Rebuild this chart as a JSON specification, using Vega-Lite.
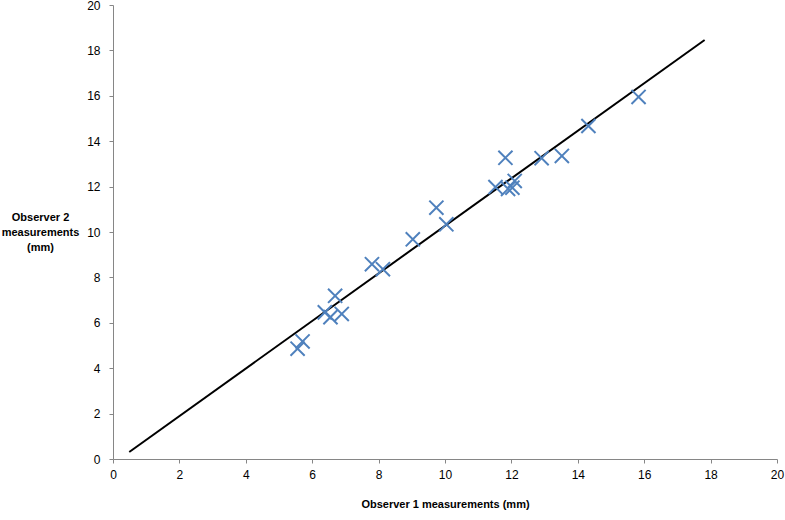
{
  "$schema": "https://vega.github.io/schema/vega-lite/v6.json",
  "autosize": "none",
  "width": 664,
  "height": 454,
  "padding": {"left": 113, "top": 5, "right": 8, "bottom": 61},
  "background": "white",
  "config": {
    "view": {"stroke": null},
    "font": "Liberation Sans",
    "axis": {
      "grid": false,
      "labelFlush": false,
      "domainColor": "#868686",
      "tickColor": "#868686",
      "tickSize": 4,
      "labelFont": "Liberation Sans",
      "labelFontSize": 12,
      "labelColor": "#000000",
      "titleFont": "Liberation Sans",
      "titleFontSize": 11,
      "titleFontWeight": "bold",
      "titleColor": "#000000"
    }
  },
  "datasets": {
    "points": [
      {"obs1": 5.56, "obs2": 4.86},
      {"obs1": 5.71, "obs2": 5.18},
      {"obs1": 6.38, "obs2": 6.46},
      {"obs1": 6.55, "obs2": 6.25},
      {"obs1": 6.69, "obs2": 7.19},
      {"obs1": 6.89, "obs2": 6.39},
      {"obs1": 7.8, "obs2": 8.58},
      {"obs1": 8.13, "obs2": 8.36},
      {"obs1": 9.03, "obs2": 9.68},
      {"obs1": 9.74, "obs2": 11.07},
      {"obs1": 10.04, "obs2": 10.34},
      {"obs1": 11.52, "obs2": 11.98},
      {"obs1": 11.82, "obs2": 13.27},
      {"obs1": 11.9, "obs2": 11.9},
      {"obs1": 12.03, "obs2": 11.95},
      {"obs1": 12.1, "obs2": 12.25},
      {"obs1": 12.91, "obs2": 13.25},
      {"obs1": 13.52, "obs2": 13.35},
      {"obs1": 14.32, "obs2": 14.67},
      {"obs1": 15.83, "obs2": 15.95}
    ],
    "fit": [
      {"obs1": 0.49, "obs2": 0.31},
      {"obs1": 17.82, "obs2": 18.46}
    ]
  },
  "layer": [
    {
      "data": {"name": "fit"},
      "mark": {"type": "line", "color": "#000000", "strokeWidth": 2},
      "encoding": {
        "x": {
          "field": "obs1", "type": "quantitative",
          "scale": {"domain": [0, 20], "nice": false, "zero": false},
          "axis": {
            "values": [0, 2, 4, 6, 8, 10, 12, 14, 16, 18, 20],
            "labelPadding": 6,
            "title": "Observer 1 measurements (mm)",
            "titleY": 45,
            "titleBaseline": "middle"
          }
        },
        "y": {
          "field": "obs2", "type": "quantitative",
          "scale": {"domain": [0, 20], "nice": false, "zero": false},
          "axis": {
            "values": [0, 2, 4, 6, 8, 10, 12, 14, 16, 18, 20],
            "labelPadding": 9,
            "title": ["Observer 2", "measurements", "(mm)"],
            "titleAngle": 0,
            "titleAlign": "center",
            "titleBaseline": "middle",
            "titleX": -73,
            "titleY": 212,
            "titleLineHeight": 15
          }
        }
      }
    },
    {
      "data": {"name": "points"},
      "mark": {
        "type": "point",
        "shape": "M-1,-1L1,1M-1,1L1,-1",
        "filled": false,
        "size": 200,
        "stroke": "#4F81BD",
        "strokeWidth": 2,
        "opacity": 1
      },
      "encoding": {
        "x": {"field": "obs1", "type": "quantitative"},
        "y": {"field": "obs2", "type": "quantitative"}
      }
    }
  ]
}
